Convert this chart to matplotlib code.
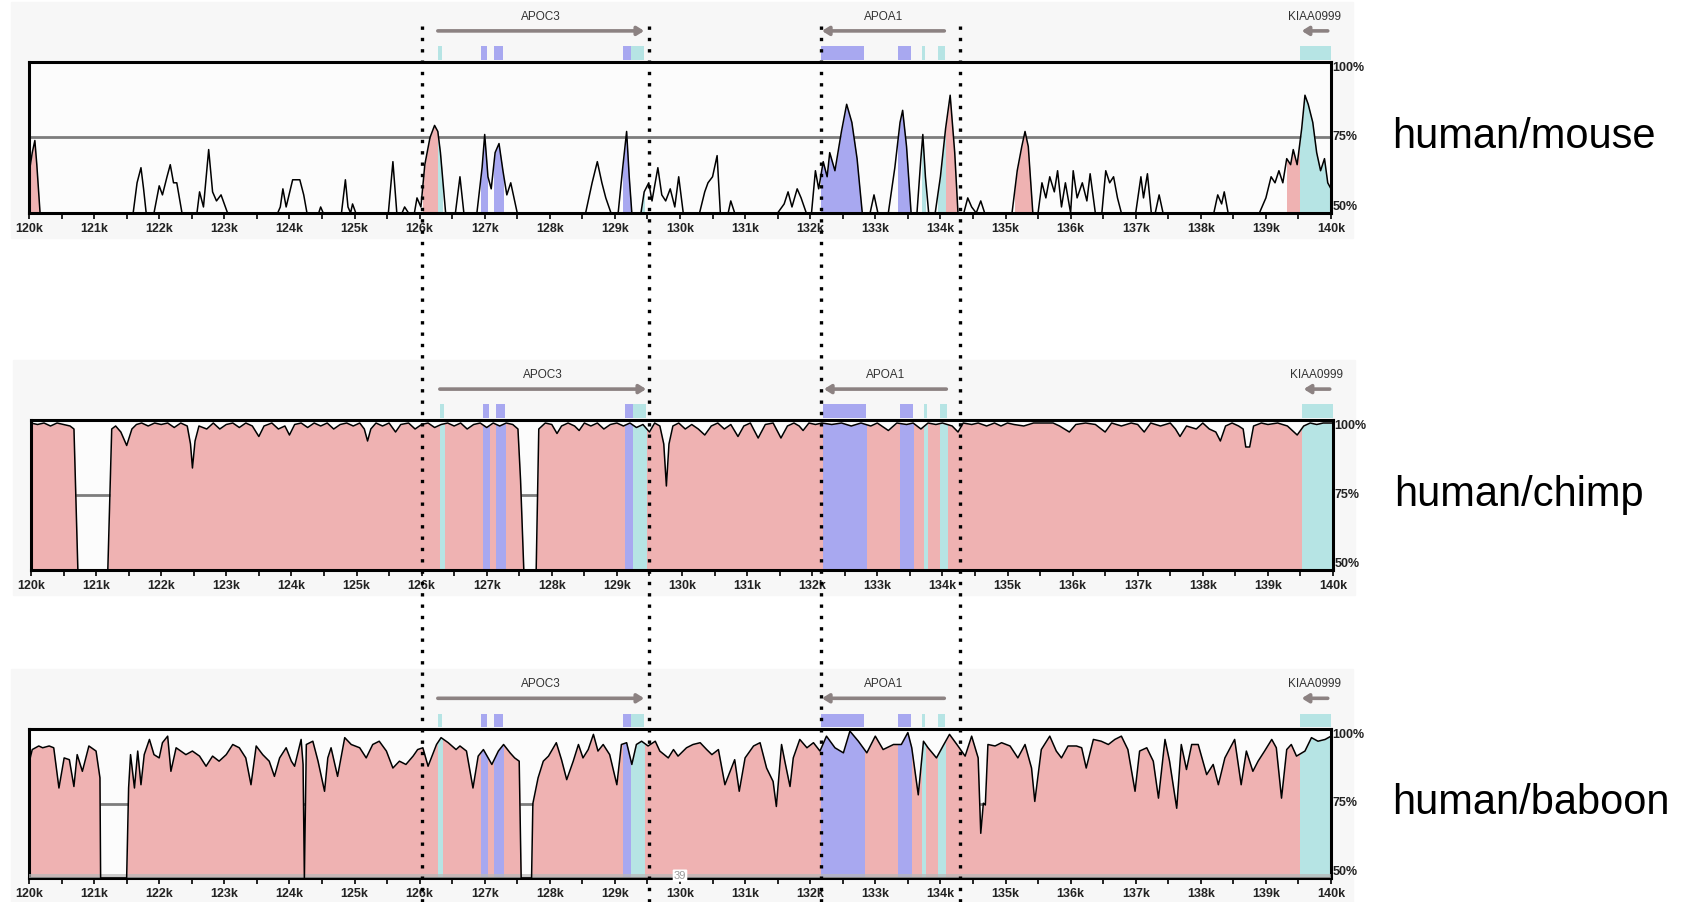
import numpy as np
import matplotlib
matplotlib.use("Agg")
import matplotlib.pyplot as plt
from matplotlib.patches import Rectangle, FancyArrowPatch
from matplotlib.transforms import blended_transform_factory

plt.rcParams['font.family'] = ['Liberation Sans', 'DejaVu Sans']

# ---- data (kb position, % identity) ----
mouse_kb = [120.00, 120.05, 120.09, 120.12, 120.17, 121.60, 121.66, 121.72, 121.76, 121.80,
            121.92, 122.00, 122.05, 122.12, 122.17, 122.22, 122.27, 122.35, 122.58, 122.62,
            122.68, 122.76, 122.82, 122.88, 122.95, 123.05, 123.82, 123.86, 123.90, 123.95,
            124.05, 124.16, 124.22, 124.27, 124.45, 124.48, 124.52, 124.80, 124.86, 124.90,
            124.94, 124.97, 125.02, 125.52, 125.59, 125.65, 125.73, 125.77, 125.83, 125.92,
            125.96, 126.02, 126.08, 126.16, 126.23, 126.28, 126.32, 126.40, 126.55, 126.62,
            126.68, 126.88, 126.96, 127.00, 127.05, 127.10, 127.16, 127.22, 127.28, 127.34,
            127.40, 127.45, 127.50, 128.55, 128.65, 128.73, 128.80, 128.86, 128.94, 129.05,
            129.12, 129.18, 129.22, 129.26, 129.40, 129.45, 129.52, 129.57, 129.62, 129.66,
            129.72, 129.78, 129.85, 129.92, 129.98, 130.05, 130.30, 130.38, 130.43, 130.50,
            130.57, 130.62, 130.74, 130.78, 130.84, 131.50, 131.60, 131.66, 131.72, 131.80,
            131.86, 131.94, 132.02, 132.08, 132.13, 132.20, 132.26, 132.30, 132.38, 132.48,
            132.56, 132.64, 132.72, 132.80, 132.92, 132.98, 133.04, 133.20, 133.30, 133.38,
            133.42, 133.48, 133.55, 133.64, 133.70, 133.73, 133.77, 133.82, 133.92, 134.00,
            134.08, 134.15, 134.22, 134.27, 134.36, 134.42, 134.48, 134.55, 134.62, 134.68,
            135.10, 135.18, 135.25, 135.30, 135.35, 135.42, 135.50, 135.56, 135.62, 135.68,
            135.75, 135.80, 135.86, 135.92, 136.00, 136.04, 136.10, 136.18, 136.25, 136.30,
            136.38, 136.48, 136.54, 136.60, 136.66, 136.72, 136.78, 137.00, 137.08, 137.12,
            137.18, 137.24, 137.30, 137.36, 137.42, 138.20, 138.26, 138.32, 138.36, 138.42,
            138.90, 139.00, 139.08, 139.14, 139.20, 139.26, 139.32, 139.38, 139.42, 139.48,
            139.55, 139.60, 139.65, 139.72, 139.78, 139.84, 139.90, 139.95, 140.00]
mouse_pct = [63, 70, 74, 66, 50, 50, 60, 65, 58, 50,
             50, 59, 56, 62, 66, 60, 60, 50, 50, 57,
             52, 71, 57, 54, 56, 50, 50, 52, 58, 52,
             61, 61, 56, 50, 50, 52, 50, 50, 61, 52,
             50, 53, 50, 50, 67, 50, 50, 52, 50, 50,
             55, 52, 66, 75, 79, 77, 70, 50, 50, 62,
             50, 50, 65, 76, 62, 58, 70, 73, 64, 56,
             60, 55, 50, 50, 60, 67, 60, 55, 50, 50,
             65, 77, 62, 50, 50, 57, 60, 54, 60, 65,
             56, 54, 58, 52, 62, 50, 50, 57, 60, 62,
             69, 50, 50, 54, 50, 50, 53, 57, 52, 58,
             55, 50, 50, 64, 58, 67, 62, 70, 64, 77,
             86, 80, 68, 50, 50, 56, 50, 50, 65, 80,
             84, 72, 50, 50, 68, 76, 62, 50, 50, 62,
             78, 89, 70, 50, 50, 55, 52, 50, 54, 50,
             50, 64, 72, 77, 72, 50, 50, 60, 55, 62,
             57, 64, 52, 60, 50, 64, 55, 60, 54, 63,
             50, 50, 64, 60, 62, 55, 50, 50, 62, 55,
             63, 50, 50, 56, 50, 50, 56, 53, 57, 50,
             50, 55, 62, 60, 64, 60, 68, 66, 71, 66,
             78, 89, 86, 80, 70, 64, 68, 60, 58]

chimp_kb = [120.00, 120.10, 120.20, 120.30, 120.40, 120.50, 120.60, 120.66, 120.72, 121.18,
            121.24, 121.30, 121.38, 121.47, 121.55, 121.62, 121.70, 121.80, 121.90, 122.00,
            122.10, 122.20, 122.30, 122.40, 122.45, 122.48, 122.52, 122.58, 122.70, 122.80,
            122.90, 123.00, 123.10, 123.20, 123.30, 123.40, 123.50, 123.58, 123.70, 123.80,
            123.90, 123.97, 124.05, 124.15, 124.25, 124.35, 124.45, 124.55, 124.65, 124.75,
            124.85, 124.95, 125.05, 125.12, 125.17, 125.22, 125.30, 125.40, 125.50, 125.60,
            125.68, 125.80, 125.90, 126.00, 126.10, 126.20, 126.30, 126.40, 126.50, 126.60,
            126.70, 126.80, 126.90, 127.00, 127.10, 127.20, 127.30, 127.40, 127.48, 127.52,
            127.57, 127.76, 127.80, 127.90, 128.00, 128.08, 128.15, 128.25, 128.35, 128.42,
            128.50, 128.60, 128.70, 128.80, 128.90, 129.00, 129.10, 129.20, 129.30, 129.40,
            129.50, 129.58, 129.66, 129.72, 129.76, 129.80, 129.86, 129.95, 130.05, 130.15,
            130.25, 130.35, 130.45, 130.55, 130.65, 130.75, 130.86, 130.95, 131.05, 131.17,
            131.28, 131.40, 131.52, 131.62, 131.72, 131.80, 131.86, 131.95, 132.05, 132.15,
            132.30, 132.45, 132.60, 132.75, 132.90, 133.00, 133.17, 133.30, 133.45, 133.55,
            133.67, 133.78, 133.90, 134.00, 134.15, 134.24, 134.32, 134.45, 134.55, 134.68,
            134.80, 134.90, 135.00, 135.10, 135.25, 135.40, 135.55, 135.70, 135.80, 135.95,
            136.05, 136.20, 136.35, 136.50, 136.60, 136.75, 136.90, 137.00, 137.10, 137.20,
            137.35, 137.50, 137.58, 137.65, 137.75, 137.90, 138.00, 138.10, 138.20, 138.27,
            138.35, 138.45, 138.55, 138.62, 138.66, 138.72, 138.78, 138.90, 139.00, 139.15,
            139.30, 139.45, 139.55, 139.65, 139.75, 139.85, 140.00]
chimp_pct = [99, 98.5, 99, 98, 99, 98.5, 98, 97, 50, 50,
             97, 98, 96, 91.5, 97, 98.5, 99, 98, 99, 98.5,
             99, 97.5, 99, 98, 92, 84, 93, 98, 97, 99,
             97, 98.5, 99, 97.5, 99, 98, 94.5, 98, 99, 97,
             98, 95, 98.5, 99, 97.5, 99, 98, 99, 97, 98.5,
             99, 98, 99, 97, 93, 97, 99, 98, 99, 96,
             98.5, 99, 97, 98.5, 99, 97.5, 98.5, 99, 98, 99,
             97, 98.5, 99, 97.5, 99, 98, 99, 98.5, 97, 80,
             50, 50, 97, 99, 98.5, 95.5, 98, 99, 98, 96.5,
             99, 98, 99, 97, 98.5, 99, 98, 99, 97.5, 98.5,
             96, 99, 98, 92, 78, 92, 98, 99, 97, 98.5,
             97, 95, 98, 99, 97, 98.5, 94.5, 98, 99, 94,
             98.5, 99, 94, 98, 99, 98, 96.5, 99, 98.5, 99,
             98.5, 99, 98, 99, 98, 99, 96.5, 99, 98.5, 99,
             97, 99, 98.5, 99, 98, 96, 99, 98.5, 99, 98,
             99, 98, 99, 98.5, 98, 99, 99, 99, 98, 96,
             98.5, 99, 98.5, 96, 99, 98, 99, 98.5, 96, 99,
             98, 99, 97, 94.5, 98, 97, 99, 97, 96, 93,
             98, 99, 98, 97, 91, 91, 98, 99, 98.5, 99,
             98, 95, 98, 99, 98.5, 99, 99]

baboon_kb = [120.00, 120.05, 120.15, 120.21, 120.31, 120.38, 120.46, 120.54, 120.62, 120.69,
             120.74, 120.82, 120.92, 121.03, 121.09, 121.10, 121.50, 121.53, 121.56, 121.62,
             121.67, 121.72, 121.77, 121.85, 121.92, 122.00, 122.05, 122.13, 122.18, 122.26,
             122.41, 122.51, 122.62, 122.72, 122.82, 122.92, 123.03, 123.13, 123.23, 123.33,
             123.41, 123.49, 123.59, 123.69, 123.77, 123.85, 123.95, 124.03, 124.08, 124.18,
             124.21, 124.23, 124.26, 124.36, 124.44, 124.54, 124.59, 124.64, 124.74, 124.85,
             124.95, 125.08, 125.18, 125.28, 125.38, 125.49, 125.59, 125.69, 125.79, 125.90,
             125.97, 126.05, 126.13, 126.26, 126.33, 126.44, 126.56, 126.62, 126.72, 126.82,
             126.90, 126.98, 127.11, 127.21, 127.29, 127.39, 127.46, 127.53, 127.56, 127.72,
             127.74, 127.82, 127.90, 127.98, 128.10, 128.18, 128.26, 128.36, 128.44, 128.51,
             128.59, 128.67, 128.74, 128.82, 128.92, 129.03, 129.10, 129.18, 129.26, 129.33,
             129.41, 129.51, 129.62, 129.69, 129.82, 129.90, 129.97, 130.10, 130.20, 130.31,
             130.41, 130.49, 130.59, 130.69, 130.77, 130.84, 130.91, 131.00, 131.13, 131.23,
             131.33, 131.43, 131.48, 131.56, 131.61, 131.69, 131.74, 131.84, 131.95, 132.05,
             132.15, 132.25, 132.38, 132.51, 132.61, 132.74, 132.87, 133.00, 133.12, 133.28,
             133.40, 133.50, 133.56, 133.66, 133.74, 133.81, 133.94, 134.04, 134.14, 134.27,
             134.38, 134.48, 134.58, 134.62, 134.66, 134.69, 134.73, 134.84, 134.94, 135.07,
             135.19, 135.30, 135.40, 135.45, 135.55, 135.68, 135.78, 135.86, 135.96, 136.09,
             136.17, 136.24, 136.35, 136.47, 136.58, 136.68, 136.78, 136.88, 136.99, 137.06,
             137.17, 137.27, 137.35, 137.45, 137.52, 137.63, 137.70, 137.78, 137.86, 137.96,
             138.09, 138.19, 138.27, 138.37, 138.52, 138.62, 138.70, 138.80, 138.88, 138.98,
             139.09, 139.16, 139.24, 139.32, 139.39, 139.47, 139.60, 139.70, 139.80, 139.91,
             140.00]
baboon_pct = [88.6, 93.1, 94.3, 93.7, 94.3, 93.7, 80.2, 90.3, 89.7, 80.7,
              91.4, 85.8, 94.3, 92.6, 83.6, 50, 50, 80.2, 91.4, 80.2,
              92.6, 81.3, 91.4, 96.5, 91.4, 90.3, 95.4, 97.6, 85.8, 93.7,
              91.4, 92.6, 90.9, 87.5, 90.9, 89.2, 91.4, 94.8, 93.7, 90.3,
              81.3, 94.3, 91.4, 89.2, 84.1, 90.3, 93.7, 89.2, 87.5, 96.5,
              88.1, 50, 94.8, 95.9, 89.2, 79.1, 90.3, 93.7, 84.1, 97.1,
              94.8, 93.7, 90.3, 94.8, 95.9, 92.6, 86.9, 89.2, 88.1, 90.9,
              93.1, 93.7, 87.5, 94.8, 97.1, 95.4, 93.1, 94.3, 92.6, 80.2,
              90.9, 93.1, 88.1, 92.6, 94.8, 92.0, 90.3, 89.2, 50, 50,
              75.0, 83.6, 89.2, 90.9, 95.4, 89.7, 83.0, 89.2, 94.8, 90.3,
              93.1, 98.2, 92.6, 94.8, 91.4, 81.3, 94.8, 95.4, 88.1, 94.8,
              95.9, 94.3, 95.9, 92.6, 90.3, 93.1, 90.9, 93.7, 94.8, 95.4,
              93.1, 91.4, 93.1, 81.3, 85.8, 89.7, 79.1, 90.3, 94.3, 95.4,
              86.9, 82.4, 74.0, 94.8, 89.2, 80.7, 90.3, 96.5, 93.7, 95.4,
              92.6, 97.6, 93.7, 92.0, 99.3, 95.9, 92.0, 97.6, 93.1, 94.8,
              94.8, 98.8, 93.7, 77.9, 95.9, 93.7, 90.3, 94.3, 98.2, 94.3,
              90.9, 97.6, 90.3, 65.0, 75.1, 74.5, 94.8, 94.3, 95.4, 94.3,
              90.3, 94.8, 86.9, 75.7, 93.1, 97.6, 92.6, 90.3, 94.3, 94.3,
              93.7, 86.9, 96.5, 95.9, 94.8, 96.5, 97.6, 93.1, 79.1, 92.6,
              93.7, 89.2, 76.8, 96.5, 89.2, 73.4, 94.8, 86.4, 94.8, 94.8,
              84.7, 88.1, 81.3, 90.3, 96.5, 81.3, 92.6, 85.8, 89.2, 92.6,
              96.5, 93.7, 76.8, 93.1, 94.8, 90.9, 92.6, 97.1, 95.9, 96.5,
              97.6]

# annotation (shared by the three panels)
coding_exons = [(126.94, 127.03), (127.15, 127.28), (129.12, 129.25), (132.17, 132.82), (133.35, 133.55)]
utr_exons = [(126.28, 126.34), (129.25, 129.45), (133.71, 133.77), (133.96, 134.07), (139.53, 140.0)]
gene_names = ['APOC3', 'APOA1', 'KIAA0999']
gene_start = [126.28, 134.06, 139.95]
gene_end = [129.45, 132.18, 139.55]
mouse_cns = [(120.0, 120.17), (126.05, 126.35), (134.0, 134.25), (135.15, 135.42), (139.33, 139.52)]
all_cns = [(120.0, 140.0)]
guide_kb = [126.03, 129.53, 132.16, 134.3]

panels = [('human/mouse', mouse_kb, mouse_pct, mouse_cns),
          ('human/chimp', chimp_kb, chimp_pct, all_cns),
          ('human/baboon', baboon_kb, baboon_pct, all_cns)]

PINK = '#efb2b2'
BLUE = '#a8a8f0'
CYAN = '#b6e4e4'

fig = plt.figure(figsize=(16.86, 9.02), dpi=100)
W, H = 1686.0, 902.0
boxes = [(29, 62, 1331, 213), (31, 420, 1333, 570), (29, 729, 1331, 878)]


def clipped_fill(ax, x, y, a, b, color):
    poly = ax.fill_between(x, 50, y, color=color, lw=0, zorder=2)
    poly.set_clip_path(Rectangle((a, 40), b - a, 70, transform=ax.transData))


axes = []
for (label, kb, pct, cns), (x0, y0, x1, y1) in zip(panels, boxes):
    # faint backdrop behind each track
    fig.add_artist(Rectangle(((x0 - 18) / W, 1 - (y1 + 25) / H), (x1 - x0 + 40) / W, (y1 - y0 + 85) / H,
                             transform=fig.transFigure, color='#f7f7f7', zorder=0))
    ax = fig.add_axes([x0 / W, 1 - y1 / H, (x1 - x0) / W, (y1 - y0) / H])
    ax.set_facecolor('#fcfcfc')
    axes.append(ax)
    kb = np.array(kb)
    pct = np.array(pct)
    ax.axhline(75, color='#7d7d7d', lw=2, zorder=1)
    for a, b in cns:
        clipped_fill(ax, kb, pct, a, b, PINK)
    for a, b in coding_exons:
        clipped_fill(ax, kb, pct, a, b, BLUE)
    for a, b in utr_exons:
        clipped_fill(ax, kb, pct, a, b, CYAN)
    ax.plot(kb, pct, color='black', lw=1.1, zorder=4)
    if label == 'human/baboon':
        ax.axhspan(50, 51.4, color='#b8b8b8', alpha=0.7, lw=0, zorder=3)
        ax.text(130.0, 50.8, '39', fontsize=8, color='#999999', ha='center', va='center', zorder=5,
                bbox=dict(boxstyle='round,pad=0.1', fc='white', ec='none'))
    ax.set_xlim(120, 140)
    ax.set_ylim(50, 100)
    for sp in ax.spines.values():
        sp.set_linewidth(2.2)
    ax.set_xticks(range(120, 141))
    ax.set_xticklabels([f'{k}k' for k in range(120, 141)], fontsize=9, color='#222222',
                       fontweight='bold')
    ax.set_xticks(np.arange(120.5, 140, 1.0), minor=True)
    ax.tick_params(axis='x', which='both', direction='out', length=4, width=1.2, pad=3)
    ax.set_yticks([])
    for v, va in [(100, 'top'), (75, 'center'), (50, 'bottom')]:
        ax.text(1.001, (v - 50) / 50, f'{v}%', transform=ax.transAxes, fontsize=9,
                color='#222222', ha='left', va=va, fontweight='bold')
    ax.text(1.047, 0.5, label, transform=ax.transAxes, fontsize=30, ha='left', va='center')

    # gene annotation above the track
    for a, b in coding_exons:
        ax.add_patch(Rectangle((a, 100.6), b - a, 4.6, color=BLUE, clip_on=False, lw=0))
    for a, b in utr_exons:
        ax.add_patch(Rectangle((a, 100.6), b - a, 4.6, color=CYAN, clip_on=False, lw=0))
    for name, s, e in zip(gene_names, gene_start, gene_end):
        ax.add_patch(FancyArrowPatch((s, 110.3), (e, 110.3), arrowstyle='-|>,head_length=4,head_width=2.5',
                                     color='#8c8282', lw=2.6, clip_on=False, shrinkA=0, shrinkB=0))
        ax.text((s + e) / 2, 115, name, fontsize=8.5, color='#333333', ha='center', va='center',
                clip_on=False)

# dotted guides running through all tracks
tr = blended_transform_factory(axes[0].transData, fig.transFigure)
for g in guide_kb:
    fig.add_artist(plt.Line2D([g, g], [0.0, 0.973], transform=tr, color='black', lw=2.4,
                              linestyle=(0, (1, 2.4)), zorder=10))

fig.savefig('out.png', dpi=100, facecolor='white')
